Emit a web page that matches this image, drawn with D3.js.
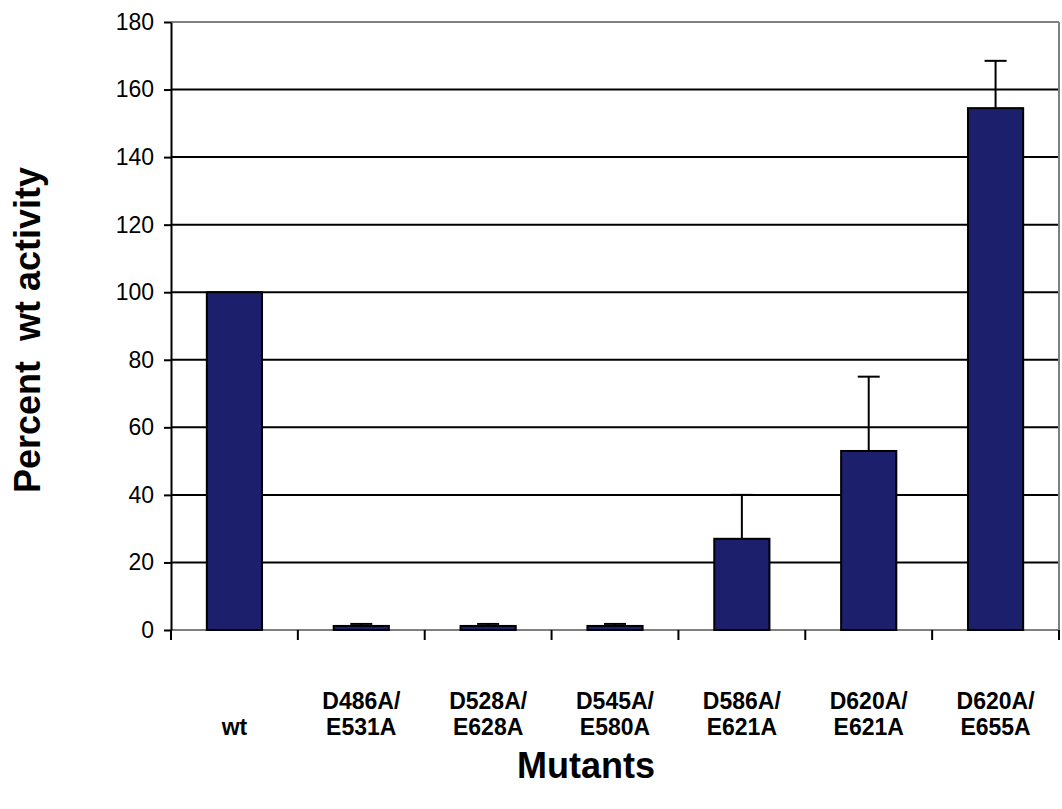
<!DOCTYPE html>
<html><head><meta charset="utf-8">
<script src="https://cdn.jsdelivr.net/npm/d3@7"></script>
<style>body{margin:0;background:#fff}svg{display:block}text{font-family:"Liberation Sans",Arial,sans-serif}</style>
</head><body>
<svg id="c" width="1062" height="809"></svg>
<script>
const categories = [["wt"],["D486A/","E531A"],["D528A/","E628A"],["D545A/","E580A"],["D586A/","E621A"],["D620A/","E621A"],["D620A/","E655A"]];
const values = [100, 1.2, 1.2, 1.2, 27, 53, 154.5];
const errors = [0, 0.6, 0.6, 0.6, 13, 22, 14];
const yTicks = [0,20,40,60,80,100,120,140,160,180];

const svg = d3.select("#c");
const L=171, R=1059, T=22, B=630;
const x = d3.scaleBand().domain(d3.range(categories.length)).range([L,R]).paddingInner(0.565).paddingOuter(0.2825);
const xb = d3.scaleBand().domain(d3.range(categories.length)).range([L,R]);
const y = d3.scaleLinear().domain([0,180]).range([B,T]);

// gridlines
svg.append("g").selectAll("line").data(yTicks.filter(v=>v>0&&v<180)).join("line")
  .attr("x1",L).attr("x2",R).attr("y1",d=>y(d)).attr("y2",d=>y(d))
  .attr("stroke","#000").attr("stroke-width",2);
// frame top/right/bottom gray
svg.append("line").attr("x1",L).attr("x2",R).attr("y1",y(180)).attr("y2",y(180)).attr("stroke","#808080").attr("stroke-width",2);
svg.append("line").attr("x1",R).attr("x2",R).attr("y1",T).attr("y2",B).attr("stroke","#808080").attr("stroke-width",2);
svg.append("line").attr("x1",L).attr("x2",R).attr("y1",B).attr("y2",B).attr("stroke","#808080").attr("stroke-width",2);

// bars
svg.append("g").selectAll("rect").data(values).join("rect")
  .attr("x",(d,i)=>x(i)).attr("width",x.bandwidth())
  .attr("y",d=>y(d)).attr("height",d=>B-y(d))
  .attr("fill","#1c1f6b").attr("stroke","#000").attr("stroke-width",2);

// error bars
const eg = svg.append("g").selectAll("g").data(values.map((v,i)=>({v,e:errors[i],i})).filter(d=>d.e>0)).join("g");
eg.append("line").attr("x1",d=>x(d.i)+x.bandwidth()/2).attr("x2",d=>x(d.i)+x.bandwidth()/2)
  .attr("y1",d=>y(d.v)).attr("y2",d=>y(d.v+d.e)).attr("stroke","#000").attr("stroke-width",2);
eg.append("line").attr("x1",d=>x(d.i)+x.bandwidth()/2-11).attr("x2",d=>x(d.i)+x.bandwidth()/2+11)
  .attr("y1",d=>y(d.v+d.e)).attr("y2",d=>y(d.v+d.e)).attr("stroke","#000").attr("stroke-width",2);

// y axis
const ya = svg.append("g").attr("transform",`translate(${L},0)`)
  .call(d3.axisLeft(y).tickValues(yTicks).tickSize(7).tickSizeOuter(0).tickPadding(10));
ya.select(".domain").attr("stroke","#000").attr("stroke-width",2);
ya.selectAll(".tick line").attr("stroke","#000").attr("stroke-width",2);
ya.selectAll(".tick text").attr("font-size",23).attr("fill","#000").style("font-family","Liberation Sans, Arial");
svg.append("line").attr("x1",L).attr("x2",L).attr("y1",B).attr("y2",B+10).attr("stroke","#000").attr("stroke-width",2);

// x ticks at boundaries
svg.append("g").selectAll("line").data(d3.range(1,categories.length+1)).join("line")
  .attr("x1",d=>L+d*xb.bandwidth()).attr("x2",d=>L+d*xb.bandwidth())
  .attr("y1",B).attr("y2",B+10).attr("stroke","#000").attr("stroke-width",2);

// category labels
const cl = svg.append("g").selectAll("text").data(categories).join("text")
  .attr("text-anchor","middle").attr("font-weight","bold").attr("font-size",23).attr("fill","#000");
cl.each(function(lines,i){
  const t=d3.select(this);
  lines.forEach((s,j)=>{
    t.append("tspan").attr("x",xb(i)+xb.bandwidth()/2).attr("y",735-(lines.length-1-j)*26).text(s);
  });
});

// titles
svg.append("text").attr("x",586).attr("y",778).attr("text-anchor","middle").attr("font-weight","bold").attr("font-size",36).text("Mutants");
svg.append("text").attr("transform","translate(40,330) rotate(-90)").attr("text-anchor","middle").attr("font-weight","bold").attr("font-size",36).style("white-space","pre").text("Percent  wt activity");
</script>
</body></html>
